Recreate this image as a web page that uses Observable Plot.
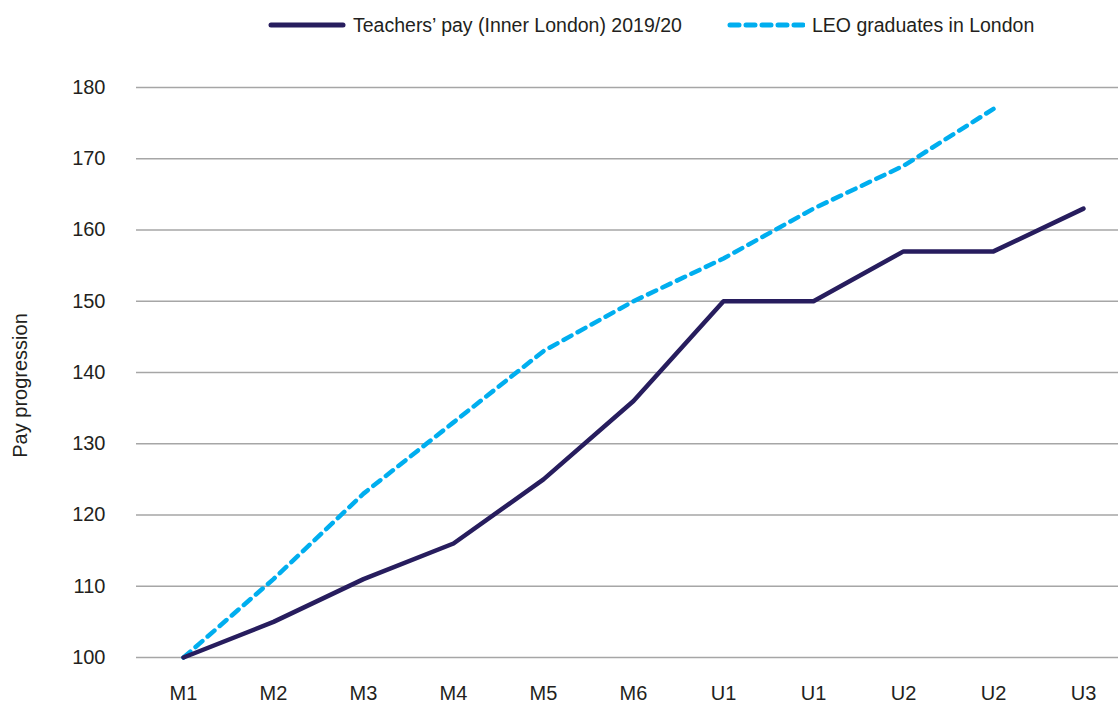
<!DOCTYPE html>
<html>
<head>
<meta charset="utf-8">
<script src="https://cdn.jsdelivr.net/npm/d3@7"></script>
<script src="https://cdn.jsdelivr.net/npm/@observablehq/plot@0.6"></script>
<style>
  body { margin: 0; background: #fff; font-family: "Liberation Sans", Arial, sans-serif; color: #231f20; }
  #legend { position: relative; height: 48px; width: 1118px; font-size: 19.5px; }
  .item { position: absolute; top: 13px; display: flex; align-items: center; height: 24px; }
  .item svg { margin-right: 7px; }
</style>
</head>
<body>
<div id="legend"></div>
<div id="chart"></div>
<script>
const categories = ["M1", "M2", "M3", "M4", "M5", "M6", "U1", "U1", "U2", "U2", "U3"];
const teachersPay = [100, 105, 111, 116, 125, 136, 150, 150, 157, 157, 163];
const leoGraduates = [100, 111, 123, 133, 143, 150, 156, 163, 169, 177, null];
const yTicks = [100, 110, 120, 130, 140, 150, 160, 170, 180];
const seriesNames = ["Teachers’ pay (Inner London) 2019/20", "LEO graduates in London"];

const navy = "#271d5e";
const blue = "#00aeef";

const teachersData = categories.map((c, i) => ({i, v: teachersPay[i]}));
const leoData = categories.map((c, i) => ({i, v: leoGraduates[i]})).filter(d => d.v != null);

// Legend
const legend = document.getElementById("legend");
legend.innerHTML = `
  <div class="item" style="left:268px">
    <svg width="78" height="10"><line x1="3" y1="5" x2="75" y2="5" stroke="${navy}" stroke-width="5" stroke-linecap="round"/></svg>
    <span>${seriesNames[0]}</span>
  </div>
  <div class="item" style="left:727px">
    <svg width="78" height="10"><line x1="3" y1="5" x2="76" y2="5" stroke="${blue}" stroke-width="5" stroke-linecap="round" stroke-dasharray="9,7"/></svg>
    <span>${seriesNames[1]}</span>
  </div>`;

const chart = Plot.plot({
  width: 1118,
  height: 654,
  marginTop: 39,
  marginBottom: 45,
  marginLeft: 136,
  marginRight: 0,
  style: {fontFamily: "Liberation Sans, Arial, sans-serif", color: "#231f20", overflow: "visible"},
  x: {type: "point", domain: categories.map((c, i) => i), range: [181, 1085], padding: 0},
  y: {domain: [100, 180], range: [609, 39]},
  marks: [
    Plot.ruleY(yTicks, {stroke: "#a6a6a6", strokeWidth: 1.5}),
    Plot.axisY(yTicks, {tickSize: 0, tickPadding: 31, fontSize: 20, label: null}),
    Plot.axisX(categories.map((c, i) => i), {tickSize: 0, tickPadding: 28, fontSize: 20, label: null, tickFormat: i => categories[i]}),
    Plot.text(["Pay progression"], {frameAnchor: "left", textAnchor: "middle", dx: -116, dy: 13, rotate: -90, fontSize: 20, fill: "#231f20"}),
    Plot.line(leoData, {x: "i", y: "v", stroke: blue, strokeWidth: 4.5, strokeDasharray: "9,7", strokeLinecap: "round", strokeLinejoin: "round"}),
    Plot.line(teachersData, {x: "i", y: "v", stroke: navy, strokeWidth: 4.5, strokeLinecap: "round", strokeLinejoin: "round"})
  ]
});
document.getElementById("chart").appendChild(chart);
</script>
</body>
</html>
